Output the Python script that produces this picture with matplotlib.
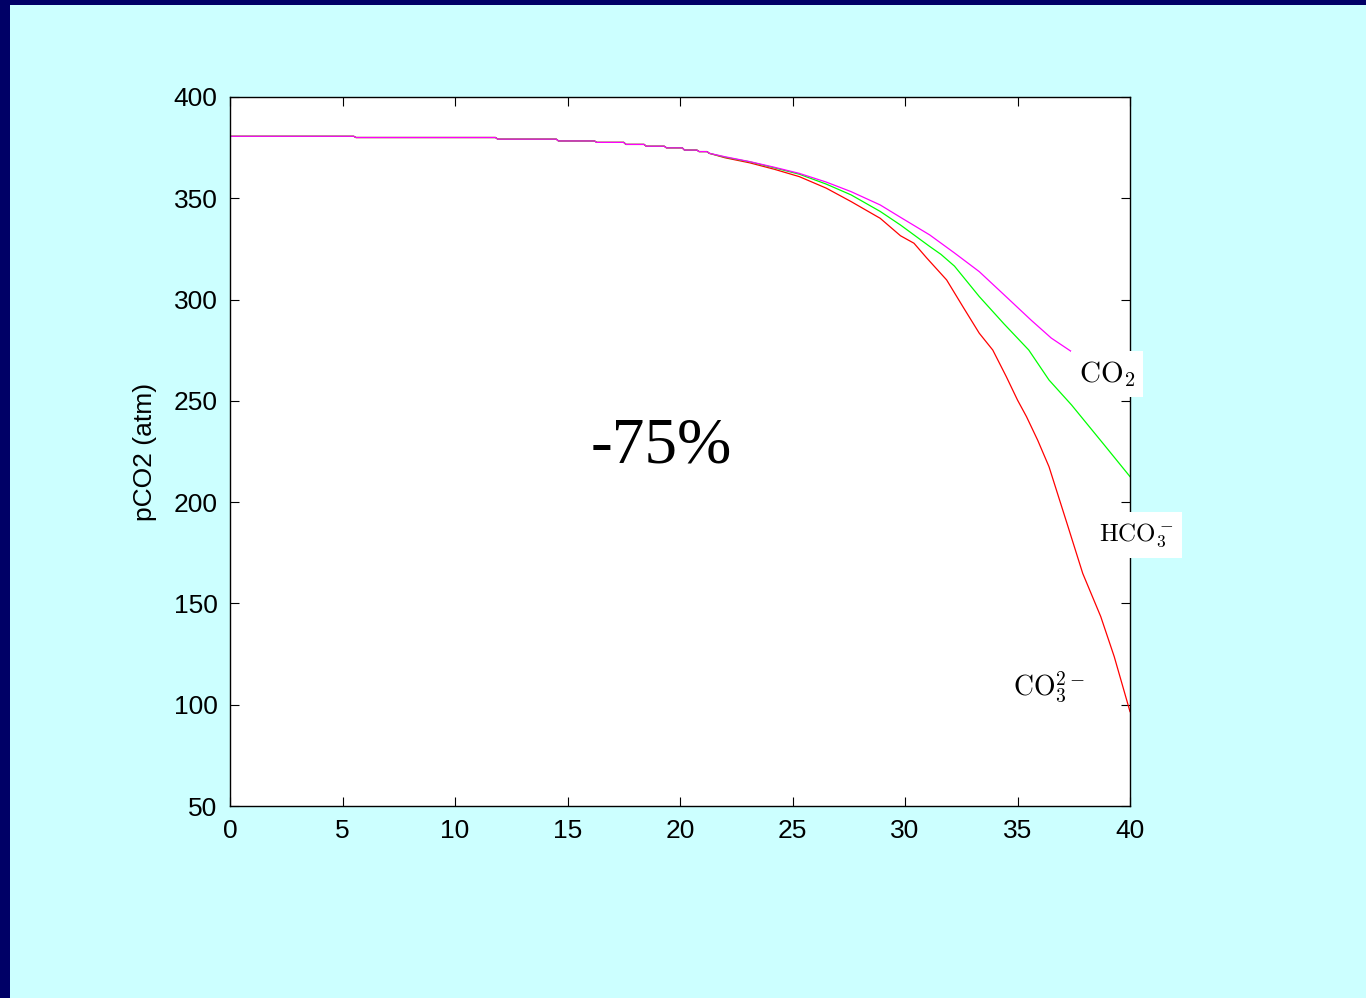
import numpy as np
import matplotlib
matplotlib.use('Agg')
import matplotlib.pyplot as plt
from matplotlib.patches import Rectangle

plt.rcParams['font.family'] = ['Liberation Sans', 'DejaVu Sans']
plt.rcParams['mathtext.fontset'] = 'cm'

# 前段三条曲线重合（阶梯状）
x_early = [0, 5.5, 5.6, 11.8, 11.9, 14.5, 14.6, 16.2, 16.3, 17.5, 17.6, 18.4, 18.5,
           19.3, 19.4, 20.1, 20.2, 20.75, 20.85, 21.2, 21.3]
y_early = [380.6, 380.6, 380.0, 380.0, 379.2, 379.2, 378.3, 378.3, 377.6, 377.6, 376.6,
           376.6, 375.7, 375.7, 374.9, 374.9, 373.8, 373.8, 373.05, 373.05, 372.2]

# CO2 (magenta)
x_co2 = [22, 23.1, 24.2, 25.3, 26.5, 27.6, 28.9, 29.8, 31.1, 32.2, 33.3, 34.4, 35.6, 36.5, 37.4]
y_co2 = [370.5, 368.1, 365.3, 362.3, 358.0, 353.3, 346.7, 340.6, 331.9, 323.0, 313.8, 302.4,
         289.9, 281.0, 274.3]

# HCO3- (green)
x_hco3 = [22, 23.1, 24.2, 25.3, 26.5, 27.6, 28.9, 29.8, 31.1, 31.6, 32.2, 33.3, 34.4, 35.5,
          36.4, 37.4, 38.8, 40]
y_hco3 = [370.3, 368.0, 365.0, 361.9, 357.0, 351.7, 343.5, 336.8, 326.2, 322.3, 316.5, 301.5,
          288.0, 275.1, 260.3, 248.0, 229.0, 212.6]

# CO3 2- (red)
x_co3 = [22, 23.1, 24.2, 25.3, 26.5, 27.6, 28.9, 29.8, 30.4, 30.96, 31.85, 32.6, 33.3, 33.9,
         34.5, 35.0, 35.4, 35.9, 36.4, 36.8, 37.2, 37.9, 38.7, 39.3, 40]
y_co3 = [370.0, 367.5, 364.3, 360.7, 355.0, 348.4, 340.1, 331.5, 327.8, 320.6, 309.7, 296.0,
         283.4, 275.1, 262.0, 250.4, 242.2, 230.5, 217.5, 203.5, 189.5, 164.8, 143.5, 123.7, 96.6]

fig = plt.figure(figsize=(13.66, 9.98), dpi=100)
fig.patch.set_facecolor('#CCFFFF')
# 左侧和顶部的深蓝色边框
fig.patches.append(Rectangle((0, 0), 10 / 1366, 1, transform=fig.transFigure,
                             facecolor='#000066', edgecolor='none'))
fig.patches.append(Rectangle((0, 1 - 5 / 998), 1, 5 / 998, transform=fig.transFigure,
                             facecolor='#000066', edgecolor='none'))

ax = fig.add_axes([230 / 1366, 192 / 998, 900 / 1366, 709 / 998])
ax.set_facecolor('white')

ax.plot(x_early + x_co3, y_early + y_co3, color='#FF0000', lw=0.9)
ax.plot(x_early + x_hco3, y_early + y_hco3, color='#00FF00', lw=0.9)
ax.plot(x_early + x_co2, y_early + y_co2, color='#FF00FF', lw=0.9)

ax.set_xlim(0, 40)
ax.set_ylim(50, 400)
ax.set_xticks(np.arange(0, 41, 5))
ax.set_yticks(np.arange(50, 401, 50))
ax.tick_params(direction='in', length=6.5, width=0.8, top=True, right=True,
               labelsize=19, pad=9)
for s in ax.spines.values():
    s.set_linewidth(1.0)
ax.set_ylabel('pCO2 (atm)', fontsize=19, labelpad=12)

# 曲线标签
ax.text(38.98, 263.3, r'$\mathrm{CO}_2$', fontsize=21, ha='center', va='center',
        bbox=dict(boxstyle='square,pad=0.28', facecolor='white', edgecolor='none'),
        clip_on=False)
ax.text(40.27, 183.8, r'$\mathrm{HCO}_3^-$', fontsize=18, ha='center', va='center',
        bbox=dict(boxstyle='square,pad=0.35', facecolor='white', edgecolor='none'),
        clip_on=False)
ax.text(36.4, 108.3, r'$\mathrm{CO}_3^{2-}$', fontsize=20, ha='center', va='center',
        bbox=dict(boxstyle='square,pad=0.28', facecolor='white', edgecolor='none'),
        clip_on=False)

ax.text(19.16, 227.3, '-75%', fontsize=47, family='Liberation Serif',
        ha='center', va='center')

plt.savefig('out.png', dpi=100, facecolor=fig.get_facecolor())
